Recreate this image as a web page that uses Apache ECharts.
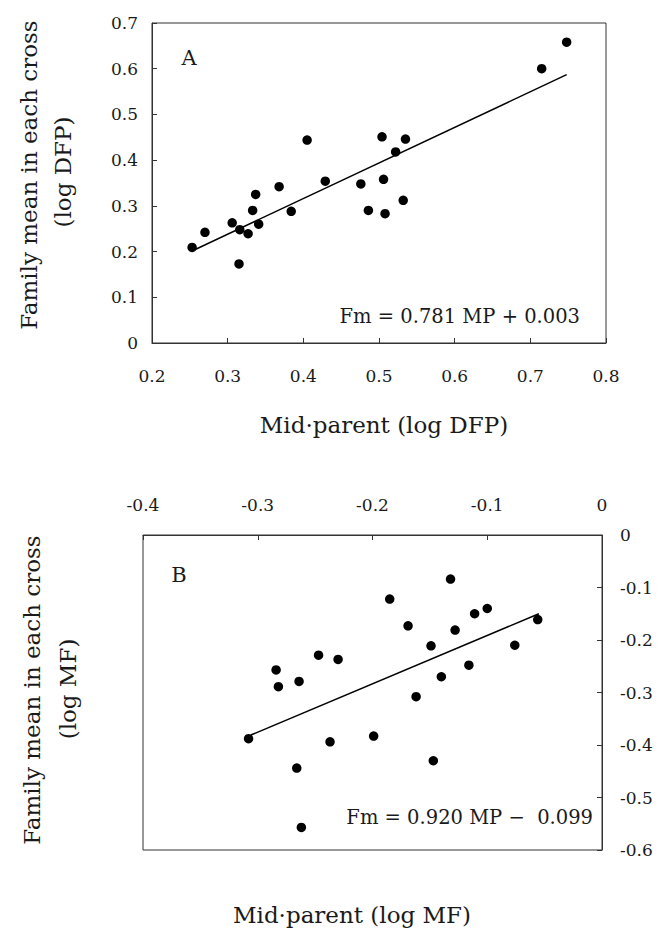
<!DOCTYPE html>
<html>
<head>
<meta charset="utf-8">
<script src="https://cdn.jsdelivr.net/npm/echarts@6/dist/echarts.min.js"></script>
<style>
html,body{margin:0;padding:0;background:#fff;}
#chart{width:663px;height:929px;}
</style>
</head>
<body>
<div id="chart"></div>
<script>
// Panel A: mid-parent vs family mean (log DFP)
var panelA_mid = [0.253,0.270,0.306,0.316,0.315,0.327,0.333,0.337,0.341,0.368,0.384,0.405,0.429,0.476,0.486,0.504,0.506,0.508,0.522,0.532,0.535,0.715,0.748];
var panelA_fam = [0.209,0.242,0.263,0.248,0.173,0.239,0.290,0.325,0.260,0.342,0.288,0.444,0.354,0.348,0.290,0.451,0.358,0.283,0.418,0.312,0.446,0.600,0.658];
var panelA_fitX = [0.255,0.748];
var panelA_fitY = [0.203,0.587];
var panelA_xTicks = [0.2,0.3,0.4,0.5,0.6,0.7,0.8];
var panelA_yTicks = [0,0.1,0.2,0.3,0.4,0.5,0.6,0.7];

// Panel B: mid-parent vs family mean (log MF)
var panelB_mid = [-0.308,-0.284,-0.282,-0.266,-0.264,-0.262,-0.247,-0.237,-0.230,-0.199,-0.185,-0.169,-0.162,-0.149,-0.147,-0.140,-0.132,-0.128,-0.116,-0.111,-0.100,-0.076,-0.056];
var panelB_fam = [-0.388,-0.257,-0.289,-0.444,-0.279,-0.557,-0.229,-0.394,-0.237,-0.383,-0.122,-0.173,-0.308,-0.211,-0.430,-0.270,-0.084,-0.181,-0.248,-0.150,-0.140,-0.210,-0.161];
var panelB_fitX = [-0.306,-0.055];
var panelB_fitY = [-0.381,-0.150];
var panelB_xTicks = [-0.4,-0.3,-0.2,-0.1,0];
var panelB_yTicks = [-0.6,-0.5,-0.4,-0.3,-0.2,-0.1,0];

var FONT = '"DejaVu Serif", "Liberation Serif", serif';
var TXT = '#1a1a1a';

function pairs(xs, ys){ return xs.map(function(x,i){ return [x, ys[i]]; }); }
function fmt(v){ var r = Math.round(v*10)/10; var s = r.toString(); return s === '-0' ? '0' : s; }

function axisCommon(ticks, pos, margin){
  return {
    type: 'value',
    position: pos,
    min: ticks[0],
    max: ticks[ticks.length-1],
    interval: 0.1,
    splitLine: {show:false},
    axisLine: {show:true, lineStyle:{color:'#333', width:1}},
    axisTick: {show:true, inside:true, length:5, lineStyle:{color:'#333', width:1}},
    axisLabel: {show:true, margin: margin, fontFamily: FONT, fontSize: 17, color: TXT, formatter: fmt, showMinLabel:true, showMaxLabel:true}
  };
}

var chart = echarts.init(document.getElementById('chart'), null, {renderer:'svg'});

var xA = axisCommon(panelA_xTicks, 'bottom', 24); xA.gridIndex = 0;
var yA = axisCommon(panelA_yTicks, 'left', 14); yA.gridIndex = 0;
var xB = axisCommon(panelB_xTicks, 'top', 22); xB.gridIndex = 1;
var yB = axisCommon(panelB_yTicks, 'right', 18); yB.gridIndex = 1;

function vtext(str, x, y, size){
  return {type:'text', x:x, y:y, rotation: Math.PI/2,
    style:{text:str, fontFamily:FONT, fontSize:size, fill:TXT, textAlign:'center', textVerticalAlign:'middle'}};
}
function htext(str, x, y, size, align){
  return {type:'text', x:x, y:y,
    style:{text:str, fontFamily:FONT, fontSize:size, fill:TXT, textAlign:align||'center', textVerticalAlign:'middle'}};
}

var dotStyle = {color:'#000', opacity:1};

var option = {
  backgroundColor: '#fff',
  animation: false,
  grid: [
    {left:152, top:23, width:454, height:320, show:true, borderColor:'#333', borderWidth:1, backgroundColor:'transparent'},
    {left:143, top:535, width:459, height:315, show:true, borderColor:'#333', borderWidth:1, backgroundColor:'transparent'}
  ],
  xAxis: [xA, xB],
  yAxis: [yA, yB],
  series: [
    {type:'scatter', xAxisIndex:0, yAxisIndex:0, data: pairs(panelA_mid, panelA_fam), symbol:'circle', symbolSize:9.5, itemStyle:dotStyle},
    {type:'line', xAxisIndex:0, yAxisIndex:0, data: pairs(panelA_fitX, panelA_fitY), symbol:'none', lineStyle:{color:'#000', width:1.5}},
    {type:'scatter', xAxisIndex:1, yAxisIndex:1, data: pairs(panelB_mid, panelB_fam), symbol:'circle', symbolSize:9.5, itemStyle:dotStyle},
    {type:'line', xAxisIndex:1, yAxisIndex:1, data: pairs(panelB_fitX, panelB_fitY), symbol:'none', lineStyle:{color:'#000', width:1.5}}
  ],
  graphic: [
    vtext('Family mean in each cross', 29, 175, 23),
    vtext('(log DFP)', 63, 172, 23),
    htext('Mid\u00B7parent (log DFP)', 384, 425, 23),
    htext('A', 189, 58, 21),
    htext('Fm = 0.781 MP + 0.003', 580, 316, 19.5, 'right'),
    vtext('Family mean in each cross', 32, 690, 23),
    vtext('(log MF)', 68, 689, 23),
    htext('Mid\u00B7parent (log MF)', 352, 915, 23),
    htext('B', 179, 575, 21),
    htext('Fm = 0.920 MP \u2212  0.099', 593, 817, 19.5, 'right')
  ]
};
chart.setOption(option);
</script>
</body>
</html>
